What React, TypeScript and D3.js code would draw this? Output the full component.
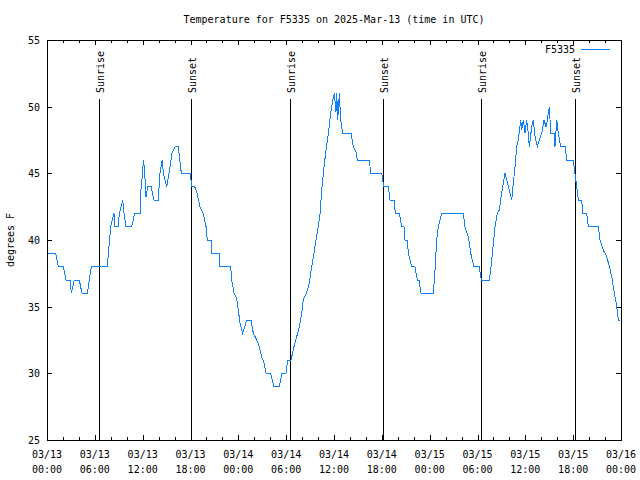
import React from "react";
import * as d3 from "d3";

const TITLE = "Temperature for F5335 on 2025-Mar-13 (time in UTC)";
const SERIES = "F5335";
const Y_LABEL = "degrees F";
const START = Date.UTC(2025, 2, 13);
const SPAN_HOURS = 72;

// hours since 2025-03-13 00:00 UTC
const hours = [
  0, 1.09, 1.42, 2.04, 2.38, 2.89, 3.05, 3.42, 4.05, 4.39, 5.06, 5.31, 5.56, 7.56,
  7.99, 8.4, 8.53, 8.94, 9.07, 9.5, 9.66, 9.91, 10.62, 11.0, 11.67, 11.75, 12.0, 12.08,
  12.21, 12.42, 12.63, 13.05, 13.42, 13.96, 14.17, 14.46, 14.59, 15.02, 15.43, 15.68,
  16.06, 16.47, 16.85, 18.03, 18.1, 18.53,
  18.82, 19.19, 19.61, 19.95, 20.11, 20.57, 20.66, 21.58, 21.61, 23.04, 23.17, 23.46,
  23.8, 24.0, 24.21, 24.55, 25.05, 25.59, 25.88, 26.31, 26.63, 26.93, 27.22, 27.47,
  28.06, 28.47, 29.14, 29.48, 29.98, 30.19, 30.61, 30.98, 31.32, 31.65, 31.95, 32.15,
  32.58, 32.9, 33.2, 33.49, 33.74, 34.03, 34.25, 34.46, 34.75, 35.0, 35.29, 35.59,
  35.84, 36.04, 36.25, 36.34, 36.47, 36.67, 36.84, 37.09, 38.13, 38.42, 38.76, 38.92,
  40.43, 40.61, 41.99, 42.11, 42.27, 42.81, 43.03, 43.53, 43.69, 44.19, 44.49, 44.78,
  44.91, 45.2, 45.32, 45.75, 46.16, 46.45, 46.66, 46.92, 48.46, 48.67, 48.88, 49.09,
  49.51, 52.22, 52.43, 52.85, 53.15, 53.56, 54.23, 54.4, 54.53, 55.48, 55.66, 55.91,
  56.2, 56.49, 56.74, 56.95, 57.24, 57.45, 57.67, 57.87, 58.08, 58.29, 58.49, 58.71,
  58.92, 59.12, 59.42, 59.55, 59.75, 59.96, 60.17, 60.37, 60.5, 60.8, 61.0, 61.22,
  61.5, 61.76, 62.06, 62.34, 62.59, 62.76, 63.01, 63.19, 63.6, 63.72, 63.94, 64.14,
  64.44, 64.98, 65.19, 66.02, 66.11, 66.27, 66.45, 66.65, 67.07, 67.2, 67.7, 67.9,
  69.16, 69.37, 69.78, 70.21, 70.54, 70.84, 71.04, 71.25, 71.47, 71.67, 71.82,
];

const temps = [
  39, 39, 38, 38, 37, 37, 36, 37, 37, 36, 36, 37, 38, 38,
  41, 42, 41, 41, 42, 43, 42, 41, 41, 42, 42, 43.6, 45, 46,
  45.5, 43.2, 44, 44, 43, 43, 45, 46, 45, 44, 45.5, 46.5,
  47, 47, 45, 45, 44, 44,
  43.5, 42.5, 42, 41, 40, 40, 39, 39, 38, 38, 37, 36,
  35.6, 34.7, 33.8, 33, 34, 34, 33, 32.5, 32, 31.2, 30.8, 30,
  30, 29, 29, 30, 30, 31, 31, 32, 32.75, 33.5, 34.5, 35.5,
  36.1, 36.75, 38, 39, 40, 41, 42, 43.75, 45.5, 46.75, 48, 49.5,
  50.5, 51, 49.6, 51, 49, 51, 49, 48, 48, 47, 46.6, 46,
  46, 45, 45, 44.5, 44, 44, 43, 43, 42, 42, 41, 41,
  40, 40, 39, 38, 38, 37, 37, 36, 36, 37.75, 40, 41,
  42, 42, 41, 40.25, 39, 38, 38, 37.25, 37, 37, 37.75, 39.25,
  41, 42, 42.25, 43.25, 44.25, 45, 44.5, 44, 43.5, 43, 44.25, 45.5,
  47, 47.5, 49, 48.25, 49, 48, 49, 48, 47, 48.5, 49, 47.75,
  47, 47.5, 48, 49, 48.5, 49, 50, 48, 48, 47, 49, 48,
  47, 47, 46, 46, 45.5, 44.75, 44, 43, 43, 42, 42, 41,
  41, 40, 39.25, 38.75, 38, 37.25, 36.5, 35.75, 35, 34, 34,
];

const sunriseHours = [6.56, 30.54, 54.48];
const sunsetHours = [18.1, 42.19, 66.27];
const yTicks = [25, 30, 35, 40, 45, 50, 55];

const FONT = "'DejaVu Sans Mono', monospace";
const LINE_COLOR = "#0f80f5";

export default function App() {
  const W = 640, H = 480;
  const L = 47, R = 621, T = 40, B = 440;
  const toDate = (h: number) => new Date(START + h * 3600e3);
  const x = d3.scaleUtc().domain([toDate(0), toDate(SPAN_HOURS)]).range([L, R]);
  const y = d3.scaleLinear().domain([25, 55]).range([B, T]);
  const data = hours.map((h, i) => ({ t: toDate(h), v: temps[i] }));
  const line = d3.line<{ t: Date; v: number }>().x((d) => x(d.t)).y((d) => y(d.v));
  const major = x.ticks(d3.utcHour.every(6) as any);
  const minor = x.ticks(d3.utcHour.every(2) as any);
  const fmtDate = d3.utcFormat("%m/%d");
  const fmtTime = d3.utcFormat("%H:%M");
  const events = [
    ...sunriseHours.map((h) => ({ h, label: "Sunrise" })),
    ...sunsetHours.map((h) => ({ h, label: "Sunset" })),
  ];

  return (
    <svg width={W} height={H} style={{ position: "absolute", left: 0, top: 0, background: "#fff" }}
      fontFamily={FONT} fontSize={10}>
      <rect x={0} y={0} width={W} height={H} fill="#fff" />
      <text x={(L + R) / 2} y={23} textAnchor="middle">{TITLE}</text>
      {minor.map((d, i) => (
        <g key={"mn" + i} shapeRendering="crispEdges" stroke="#000">
          <line x1={Math.round(x(d)) + 0.5} x2={Math.round(x(d)) + 0.5} y1={B} y2={B - 3} />
          <line x1={Math.round(x(d)) + 0.5} x2={Math.round(x(d)) + 0.5} y1={T} y2={T + 3} />
        </g>
      ))}
      {major.map((d, i) => (
        <g key={"mj" + i}>
          <line x1={Math.round(x(d)) + 0.5} x2={Math.round(x(d)) + 0.5} y1={B} y2={B - 5} stroke="#000" shapeRendering="crispEdges" />
          <line x1={Math.round(x(d)) + 0.5} x2={Math.round(x(d)) + 0.5} y1={T} y2={T + 5} stroke="#000" shapeRendering="crispEdges" />
          <text x={x(d)} y={458} textAnchor="middle">{fmtDate(d)}</text>
          <text x={x(d)} y={473} textAnchor="middle">{fmtTime(d)}</text>
        </g>
      ))}
      {yTicks.map((v) => (
        <g key={"y" + v}>
          <line x1={L} x2={L + 5} y1={Math.round(y(v)) + 0.5} y2={Math.round(y(v)) + 0.5} stroke="#000" shapeRendering="crispEdges" />
          <line x1={R} x2={R - 5} y1={Math.round(y(v)) + 0.5} y2={Math.round(y(v)) + 0.5} stroke="#000" shapeRendering="crispEdges" />
          <text x={40} y={y(v) + 4} textAnchor="end">{v}</text>
        </g>
      ))}
      <text transform={`translate(14,${(T + B) / 2}) rotate(-90)`} textAnchor="middle">{Y_LABEL}</text>
      {events.map((e, i) => {
        const ex = Math.round(x(toDate(e.h))) + 0.5;
        return (
          <g key={"ev" + i}>
            <line x1={ex} x2={ex} y1={99} y2={B} stroke="#000" shapeRendering="crispEdges" />
            <text transform={`translate(${ex + 4},93) rotate(-90)`} textAnchor="start">{e.label}</text>
          </g>
        );
      })}
      <path d={line(data) || ""} fill="none" stroke={LINE_COLOR} strokeWidth={1} shapeRendering="crispEdges" />
      <rect x={L + 0.5} y={T + 0.5} width={R - L} height={B - T} fill="none" stroke="#000" shapeRendering="crispEdges" />
      <text x={575} y={53} textAnchor="end">{SERIES}</text>
      <line x1={581} x2={610} y1={49.5} y2={49.5} stroke={LINE_COLOR} shapeRendering="crispEdges" />
    </svg>
  );
}
